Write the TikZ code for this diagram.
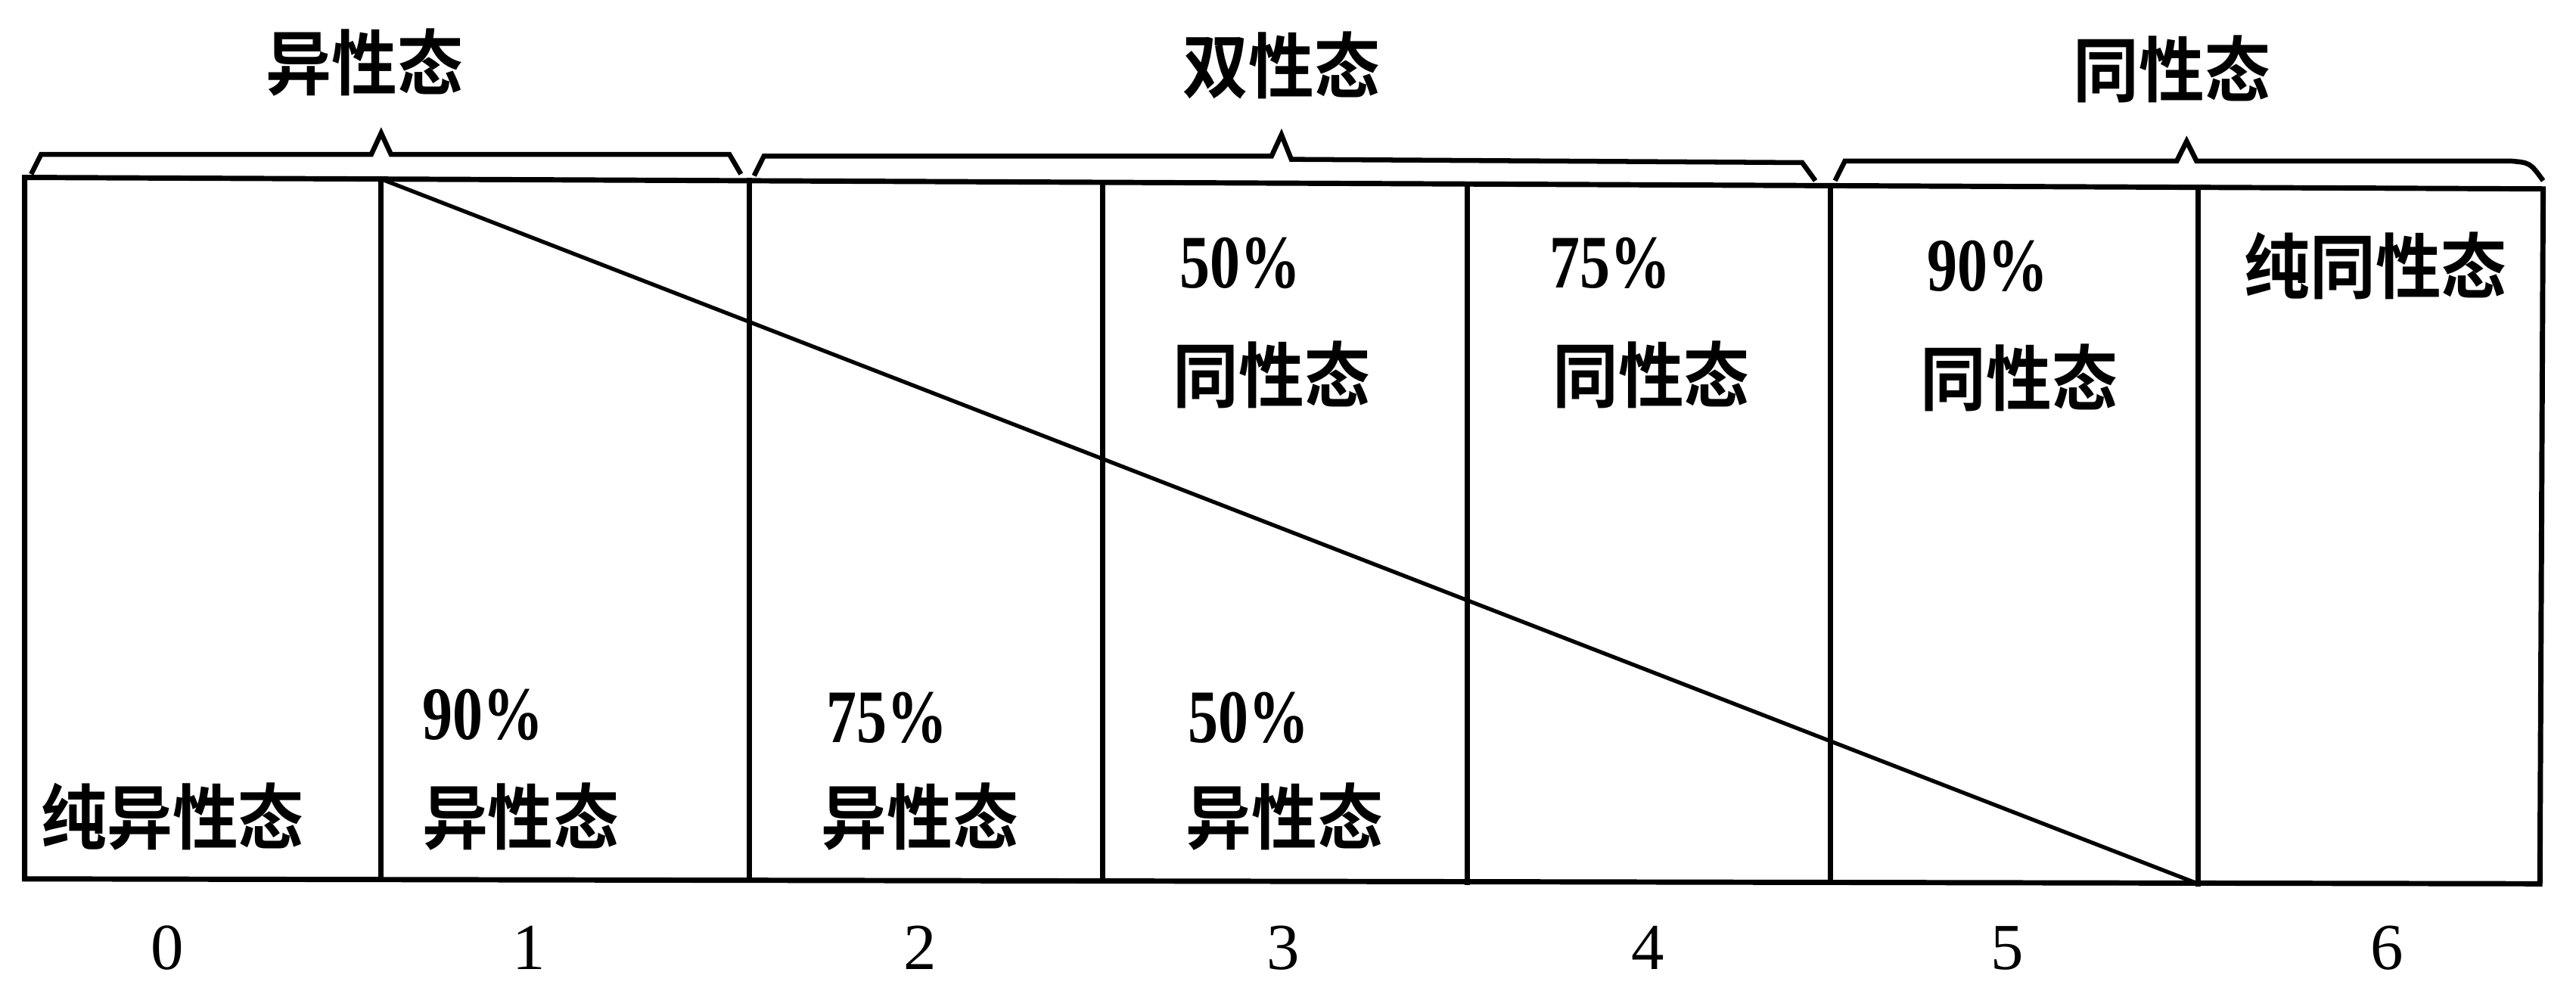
\documentclass[tikz,border=0pt]{standalone}
\usepackage{fontspec}
\setmainfont{Liberation Serif}
\newfontfamily\cjk[BoldFont={Noto Sans CJK SC Bold}]{Noto Sans CJK SC}
\begin{document}
\begin{tikzpicture}[x=1pt,y=-1pt,
  frame/.style={line width=3.2pt,line cap=rect},
  diag/.style={line width=2.4pt},
  bracepath/.style={line width=3pt,line join=miter},
  cn/.style={inner sep=0pt,font=\cjk\bfseries\fontsize{40}{40}\selectfont,yscale=1.08},
  pct/.style={inner sep=0pt,font=\bfseries\fontsize{46}{46}\selectfont,xscale=0.8},
  num/.style={inner sep=0pt,font=\fontsize{40}{40}\selectfont}]
\useasboundingbox (0,0) rectangle (1568,605);
% frame corners and divider ends
\coordinate (t0) at (15,108);   \coordinate (b0) at (15,535);
\coordinate (t1) at (232,109);  \coordinate (b1) at (232,535);
\coordinate (t2) at (456,110);  \coordinate (b2) at (456,536);
\coordinate (t3) at (671,111);  \coordinate (b3) at (671,536);
\coordinate (t4) at (893,112);  \coordinate (b4) at (893,537);
\coordinate (t5) at (1114,113); \coordinate (b5) at (1114,537);
\coordinate (t6) at (1338,114); \coordinate (b6) at (1338,538);
\coordinate (t7) at (1548,115); \coordinate (b7) at (1546,538);
\draw[frame] (t0) -- (t7) -- (b7) -- (b0) -- cycle;
\foreach \i in {1,...,6} \draw[frame] (t\i) -- (b\i);
\draw[diag] (t1) -- (b6);
% braces
\coordinate (ba1) at (19,106);  \coordinate (bb1) at (451,106); \coordinate (tip1) at (232,81);
\coordinate (ba2) at (459,107); \coordinate (bb2) at (1105,110); \coordinate (tip2) at (780,82);
\coordinate (ba3) at (1117,110); \coordinate (bb3) at (1548,110); \coordinate (tip3) at (1331,86);
\draw[bracepath] (ba1) -- ++(6,-12) -- (226,94) -- (tip1) -- (238,94) -- (444,94) -- (bb1);
\draw[bracepath] (ba2) -- ++(6,-12) -- (774,95) -- (tip2) -- (786,97) -- (1097,99) -- (bb2);
\draw[bracepath] (ba3) -- ++(6,-12) -- (1325,98) -- (tip3) -- (1337,98) -- (1528,98) .. controls (1540,99) .. (bb3);
% group labels
\node[cn] (g1) at (222,38) {异性态};
\node[cn] (g2) at (780,40) {双性态};
\node[cn] (g3) at (1322,42) {同性态};
% cell texts
\node[cn] (c0) at (105,497) {纯异性态};
\node[pct] (p1) at (294,435) {90\%};
\node[cn] (c1) at (317,497) {异性态};
\node[pct] (p2) at (540,437) {75\%};
\node[cn] (c2) at (560,497) {异性态};
\node[pct] (p3b) at (760,437) {50\%};
\node[cn] (c3b) at (782,497) {异性态};
\node[pct] (p3t) at (755,160) {50\%};
\node[cn] (c3t) at (774,228) {同性态};
\node[pct] (p4) at (980,160) {75\%};
\node[cn] (c4) at (1005,228) {同性态};
\node[pct] (p5) at (1210,162) {90\%};
\node[cn] (c5) at (1229,230) {同性态};
\node[cn] (c6) at (1446,162) {纯同性态};
% axis numbers
\node[num] (n0) at (102,577) {0};
\node[num] (n1) at (322,577) {1};
\node[num] (n2) at (560,577) {2};
\node[num] (n3) at (781,577) {3};
\node[num] (n4) at (1003,577) {4};
\node[num] (n5) at (1222,577) {5};
\node[num] (n6) at (1453,577) {6};
\end{tikzpicture}
\end{document}
